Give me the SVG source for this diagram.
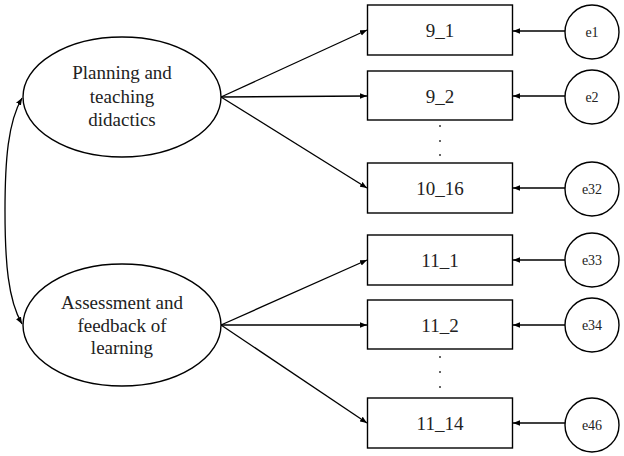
<svg xmlns="http://www.w3.org/2000/svg" width="624" height="456" viewBox="0 0 624 456">
<defs>
<marker id="ah" viewBox="0 0 10 10" refX="10" refY="5" markerWidth="7" markerHeight="7" markerUnits="userSpaceOnUse" orient="auto-start-reverse">
<path d="M0,1 L10,5 L0,9 Z" fill="#000"/>
</marker>
</defs>
<style>
.shape{fill:#fff;stroke:#000;stroke-width:1.4}
.ln{fill:none;stroke:#000;stroke-width:1.3}
.t{font-family:"Liberation Serif","Times New Roman",serif;fill:#222;text-anchor:middle}
.lat{font-size:19px}
.obs{font-size:19px}
.err{font-size:14px}
.dot{fill:#333}
</style>
<rect width="624" height="456" fill="#fff"/>
<g id="connectors">
<path class="ln" d="M22,98 C8,122 5,160 5,211 C5,262 8,300 22,324" marker-start="url(#ah)" marker-end="url(#ah)"/>
<line class="ln" x1="221" y1="97" x2="367" y2="30" marker-end="url(#ah)"/>
<line class="ln" x1="221" y1="97" x2="367" y2="96" marker-end="url(#ah)"/>
<line class="ln" x1="221" y1="97" x2="367" y2="188" marker-end="url(#ah)"/>
<line class="ln" x1="221" y1="325" x2="367" y2="260" marker-end="url(#ah)"/>
<line class="ln" x1="221" y1="325" x2="367" y2="325" marker-end="url(#ah)"/>
<line class="ln" x1="221" y1="325" x2="367" y2="423" marker-end="url(#ah)"/>
<line class="ln" x1="565" y1="31" x2="513" y2="31" marker-end="url(#ah)"/>
<line class="ln" x1="565" y1="96" x2="513" y2="96" marker-end="url(#ah)"/>
<line class="ln" x1="565" y1="188" x2="513" y2="188" marker-end="url(#ah)"/>
<line class="ln" x1="565" y1="260" x2="513" y2="260" marker-end="url(#ah)"/>
<line class="ln" x1="565" y1="325" x2="513" y2="325" marker-end="url(#ah)"/>
<line class="ln" x1="565" y1="423" x2="513" y2="423" marker-end="url(#ah)"/>
</g>
<g id="f1">
<ellipse class="shape" cx="122" cy="97" rx="99" ry="60"/>
<text class="t lat" x="122" y="79">Planning and</text>
<text class="t lat" x="122" y="103">teaching</text>
<text class="t lat" x="122" y="126">didactics</text>
</g>
<g id="f2">
<ellipse class="shape" cx="122" cy="325" rx="99" ry="61"/>
<text class="t lat" x="122" y="309">Assessment and</text>
<text class="t lat" x="122" y="332">feedback of</text>
<text class="t lat" x="122" y="354">learning</text>
</g>
<g id="v9_1"><rect class="shape" x="367.5" y="5" width="145" height="50"/><text class="t obs" x="440" y="37">9_1</text></g>
<g id="v9_2"><rect class="shape" x="367.5" y="71" width="145" height="49"/><text class="t obs" x="440" y="103">9_2</text></g>
<g id="v10_16"><rect class="shape" x="367.5" y="163" width="145" height="50"/><text class="t obs" x="440" y="195">10_16</text></g>
<g id="v11_1"><rect class="shape" x="367.5" y="235" width="145" height="50"/><text class="t obs" x="440" y="267">11_1</text></g>
<g id="v11_2"><rect class="shape" x="367.5" y="300" width="145" height="49"/><text class="t obs" x="440" y="332">11_2</text></g>
<g id="v11_14"><rect class="shape" x="367.5" y="398" width="145" height="50"/><text class="t obs" x="440" y="430">11_14</text></g>
<g id="dots1"><circle class="dot" cx="440" cy="126" r="1"/><circle class="dot" cx="440" cy="141" r="1"/><circle class="dot" cx="440" cy="155" r="1"/></g>
<g id="dots2"><circle class="dot" cx="440" cy="357" r="1"/><circle class="dot" cx="440" cy="372" r="1"/><circle class="dot" cx="440" cy="387" r="1"/></g>
<g id="e1"><circle class="shape" cx="592" cy="32" r="27"/><text class="t err" x="592" y="37">e1</text></g>
<g id="e2"><circle class="shape" cx="592" cy="97" r="27"/><text class="t err" x="592" y="102">e2</text></g>
<g id="e32"><circle class="shape" cx="592" cy="189" r="27"/><text class="t err" x="592" y="194">e32</text></g>
<g id="e33"><circle class="shape" cx="592" cy="260" r="27"/><text class="t err" x="592" y="265">e33</text></g>
<g id="e34"><circle class="shape" cx="592" cy="325" r="27"/><text class="t err" x="592" y="330">e34</text></g>
<g id="e46"><circle class="shape" cx="592" cy="425" r="27"/><text class="t err" x="592" y="430">e46</text></g>
</svg>
